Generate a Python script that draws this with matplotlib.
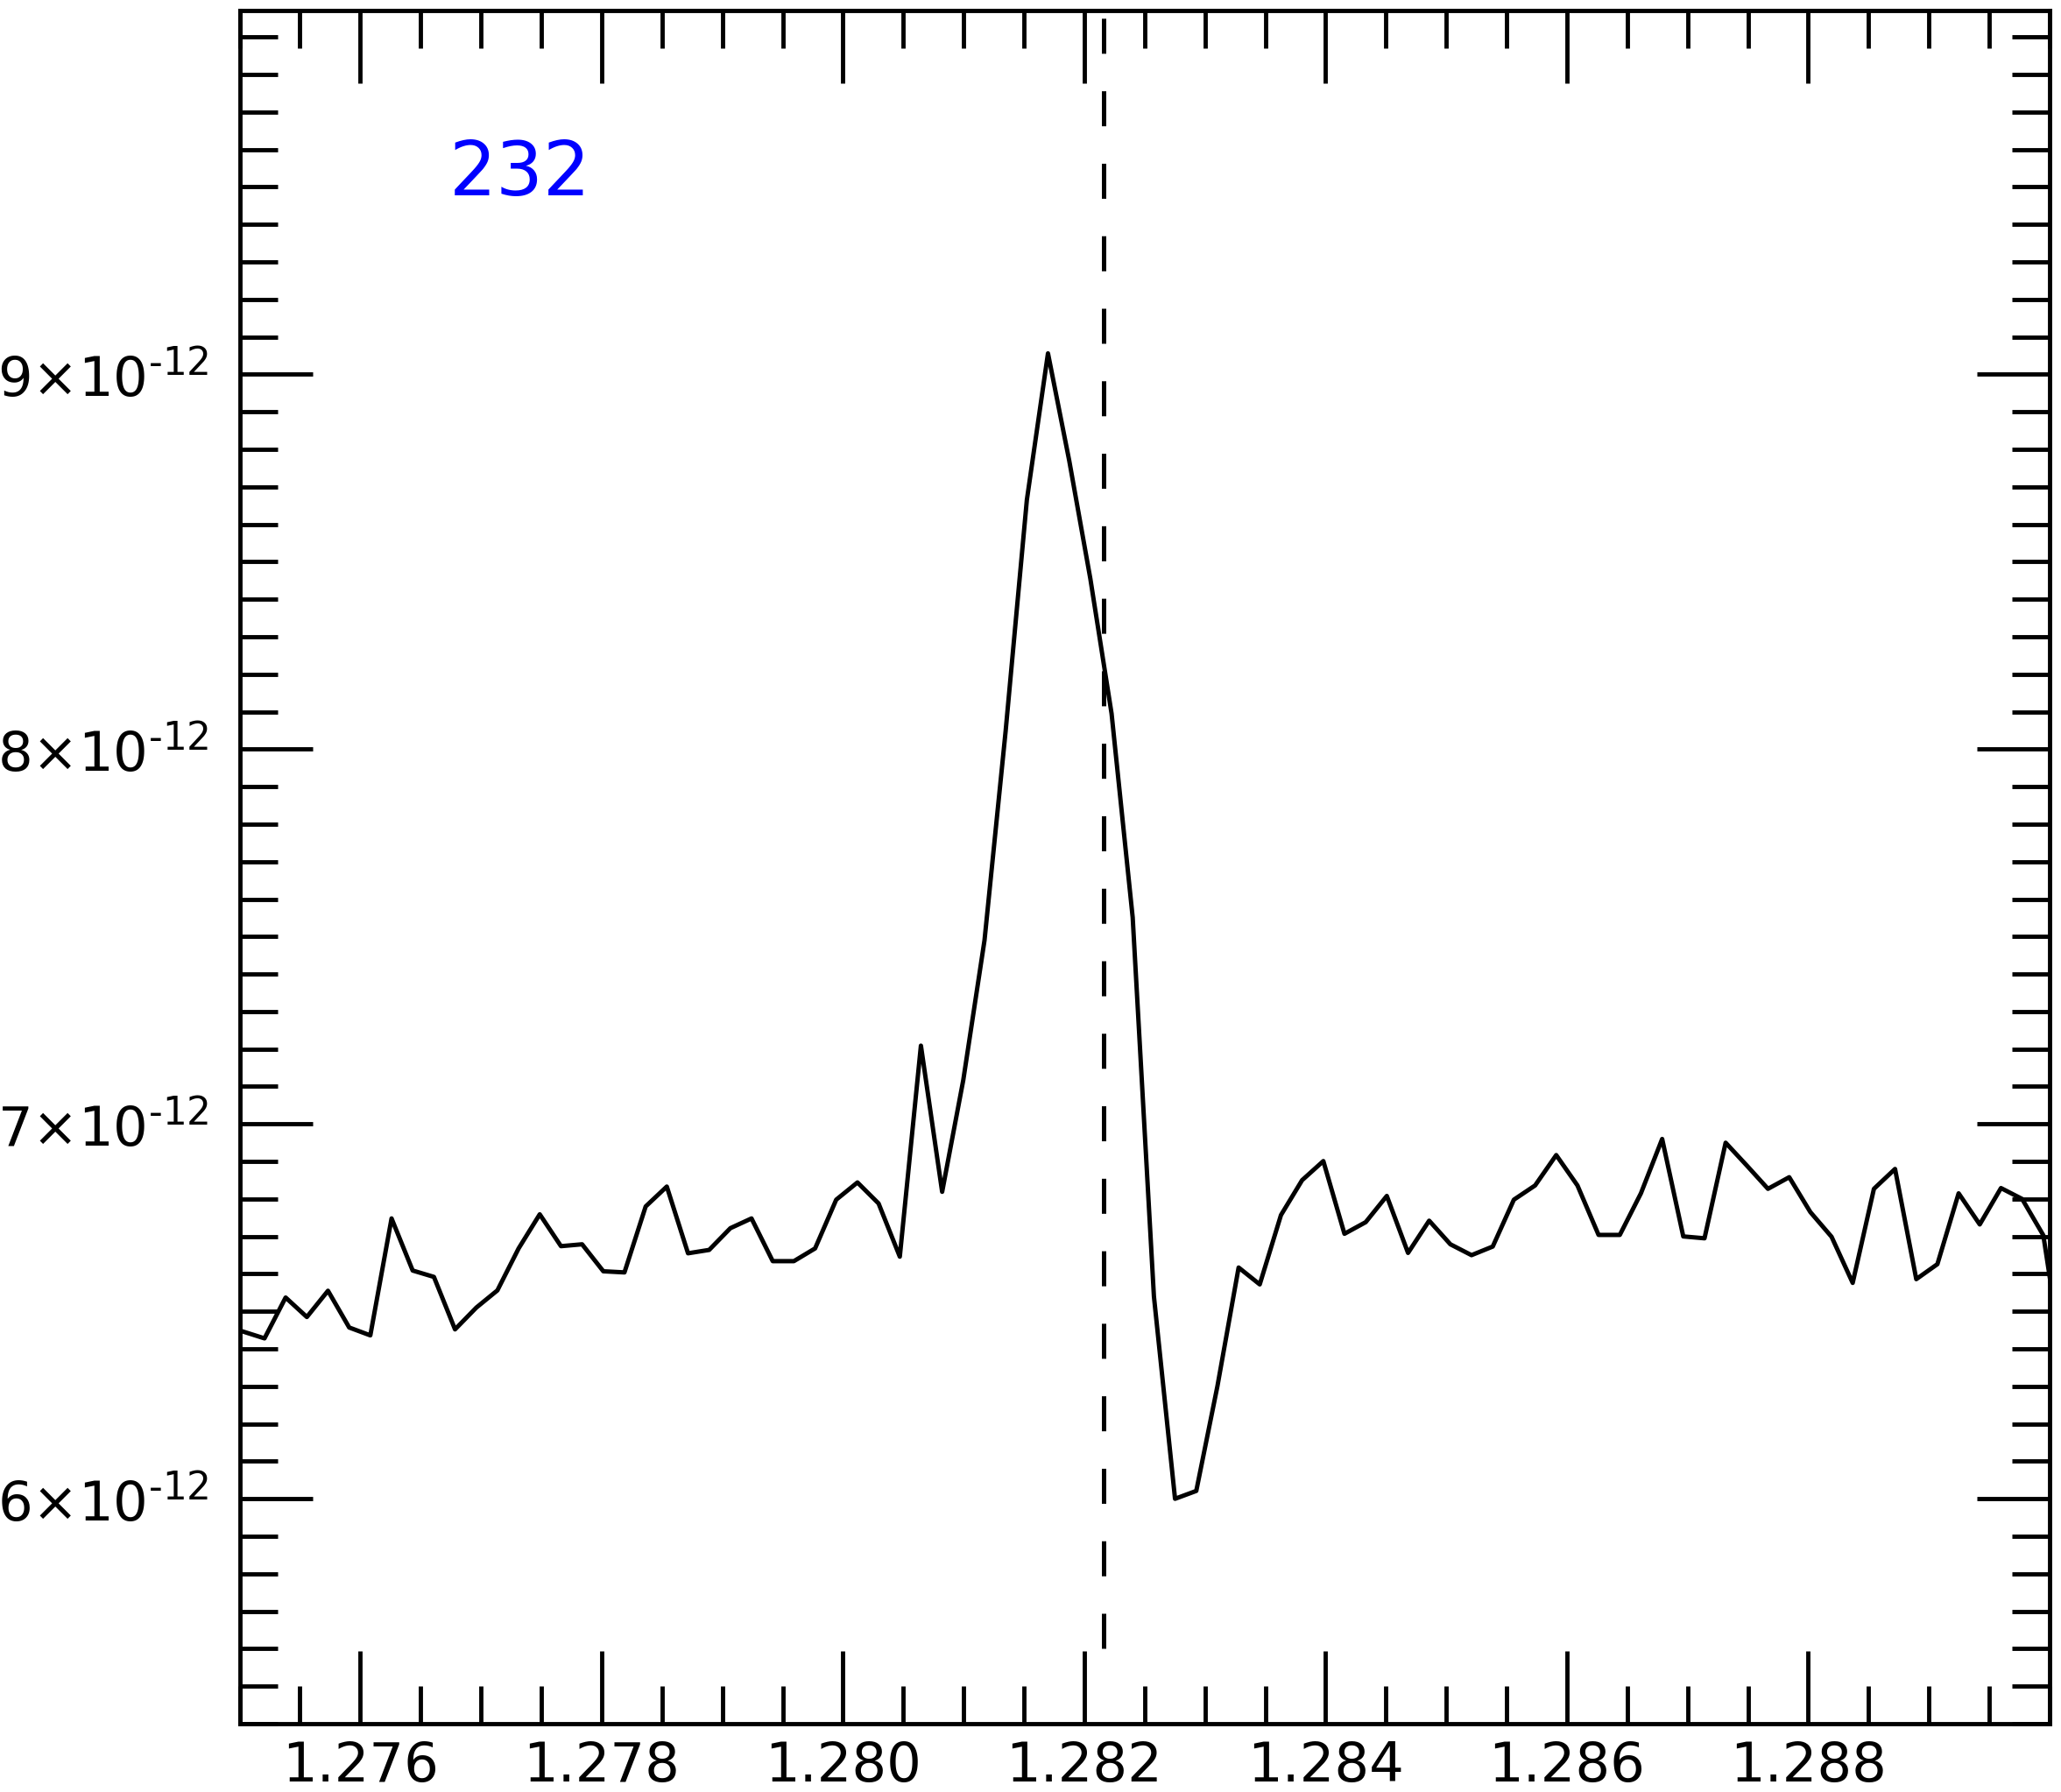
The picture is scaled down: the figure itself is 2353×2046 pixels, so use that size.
import matplotlib
matplotlib.use("Agg")
import matplotlib.pyplot as plt
from matplotlib.ticker import MultipleLocator, FixedLocator
import numpy as np

# ---------------- data ----------------
wavelength = [
    1.275030, 1.275206, 1.275381, 1.275557, 1.275732, 1.275908, 1.276083, 1.276259,
    1.276434, 1.276610, 1.276785, 1.276961, 1.277136, 1.277312, 1.277487, 1.277663,
    1.277838, 1.278014, 1.278189, 1.278365, 1.278540, 1.278716, 1.278891, 1.279067,
    1.279242, 1.279418, 1.279593, 1.279769, 1.279944, 1.280120, 1.280295, 1.280471,
    1.280646, 1.280822, 1.280997, 1.281173, 1.281348, 1.281524, 1.281699, 1.281875,
    1.282050, 1.282226, 1.282401, 1.282577, 1.282752, 1.282928, 1.283103, 1.283279,
    1.283454, 1.283630, 1.283805, 1.283981, 1.284156, 1.284332, 1.284507, 1.284683,
    1.284858, 1.285034, 1.285209, 1.285385, 1.285560, 1.285736, 1.285911, 1.286087,
    1.286262, 1.286438, 1.286613, 1.286789, 1.286964, 1.287140, 1.287315, 1.287491,
    1.287666, 1.287842, 1.288017, 1.288193, 1.288368, 1.288544, 1.288719, 1.288895,
    1.289070, 1.289246, 1.289421, 1.289597, 1.289772, 1.289948, 1.290123,
]

# flux in units of 1e-12
flux_e12 = [
    6.446, 6.428, 6.537, 6.485, 6.555, 6.457, 6.436, 6.748,
    6.609, 6.592, 6.452, 6.510, 6.556, 6.668, 6.759, 6.674,
    6.679, 6.607, 6.604, 6.780, 6.833, 6.655, 6.664, 6.722,
    6.748, 6.634, 6.634, 6.668, 6.798, 6.844, 6.788, 6.646,
    7.209, 6.819, 7.117, 7.490, 8.048, 8.665, 9.056, 8.770,
    8.455, 8.095, 7.551, 6.540, 6.000, 6.021, 6.300, 6.617,
    6.572, 6.757, 6.850, 6.901, 6.707, 6.738, 6.808, 6.656,
    6.742, 6.679, 6.650, 6.673, 6.798, 6.836, 6.917, 6.836,
    6.704, 6.704, 6.815, 6.960, 6.700, 6.695, 6.950, 6.889,
    6.827, 6.858, 6.765, 6.699, 6.576, 6.827, 6.880, 6.586,
    6.626, 6.815, 6.732, 6.829, 6.800, 6.703, 6.334,
]
FLUX_UNIT = 1e-12

line_center = 1.28216          # Pa-beta
line_marker_bottom = 5.6e-12
label_text = "232"

x_major_ticks = [1.276, 1.278, 1.280, 1.282, 1.284, 1.286, 1.288]
x_major_labels = ["1.276", "1.278", "1.280", "1.282", "1.284", "1.286", "1.288"]
y_major_ticks = [6e-12, 7e-12, 8e-12, 9e-12]
y_major_labels = [r"$6{\times}10^{\text{-}12}$", r"$7{\times}10^{\text{-}12}$",
                  r"$8{\times}10^{\text{-}12}$", r"$9{\times}10^{\text{-}12}$"]

x_limits = (1.275, 1.290)
y_limits = (5.40e-12, 9.97e-12)

# ---------------- plot ----------------
plt.rcParams["font.family"] = ["DejaVu Sans"]
plt.rcParams["mathtext.fontset"] = "dejavusans"
plt.rcParams["lines.scale_dashes"] = False

W, H = 2353, 2046
fig = plt.figure(figsize=(W / 100, H / 100), dpi=100)
left, right = 273.6 / W, 2340.0 / W
bottom, top = (H - 1968.0) / H, (H - 12.3) / H
ax = fig.add_axes([left, bottom, right - left, top - bottom])

flux = np.array(flux_e12) * FLUX_UNIT
ax.plot(wavelength, flux, color="black", lw=3.6)
ax.plot([line_center, line_center], [line_marker_bottom, y_limits[1]],
        color="black", lw=3.6, dashes=(28.8, 30.8))

ax.set_xlim(*x_limits)
ax.set_ylim(*y_limits)

ax.xaxis.set_major_locator(FixedLocator(x_major_ticks))
ax.set_xticklabels(x_major_labels)
ax.xaxis.set_minor_locator(MultipleLocator(0.0005))
ax.yaxis.set_major_locator(FixedLocator(y_major_ticks))
ax.set_yticklabels(y_major_labels)
ax.yaxis.set_minor_locator(MultipleLocator(1e-13))

ax.tick_params(which="both", direction="in", top=True, right=True,
               width=3.5, labelsize=45, colors="black")
ax.tick_params(which="major", length=60)
ax.tick_params(which="minor", length=31)
ax.tick_params(axis="x", pad=14)
ax.tick_params(axis="y", pad=25)
for sp in ax.spines.values():
    sp.set_linewidth(3.5)

ax.text(0.1155, 0.8924, label_text, color="blue", fontsize=61,
        transform=ax.transAxes, ha="left", va="baseline")

fig.savefig("out.png", dpi=100)
